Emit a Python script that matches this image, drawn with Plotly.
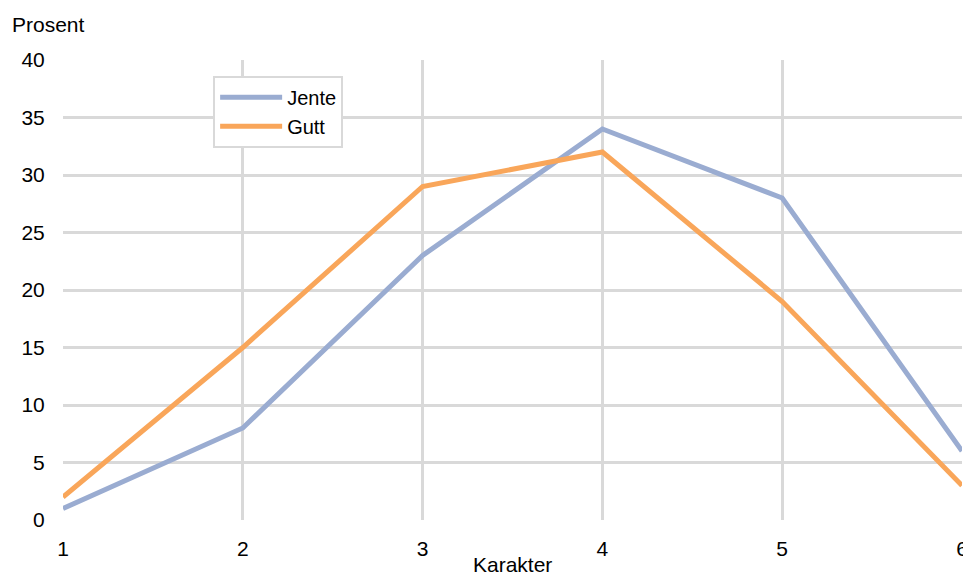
import plotly.graph_objects as go

karakter = [1, 2, 3, 4, 5, 6]
jente = [1, 8, 23, 34, 28, 6]
gutt = [2, 15, 29, 32, 19, 3]
y_ticks = [0, 5, 10, 15, 20, 25, 30, 35, 40]

FAMILY = "Liberation Sans, Arial, sans-serif"
font = dict(family=FAMILY, size=21, color="#000000")
grid = "#d9d9d9"

fig = go.Figure()
fig.add_trace(go.Scatter(x=karakter, y=jente, mode="lines", name="Jente",
                         line=dict(color="#9aacd1", width=5)))
fig.add_trace(go.Scatter(x=karakter, y=gutt, mode="lines", name="Gutt",
                         line=dict(color="#f9a65a", width=5)))

fig.update_layout(
    width=963, height=576,
    margin=dict(l=63, r=1, t=60, b=56),
    paper_bgcolor="white", plot_bgcolor="white",
    font=font,
    showlegend=True,
    legend=dict(x=0.167, y=0.966, xanchor="left", yanchor="top",
                bgcolor="white", bordercolor=grid, borderwidth=2,
                font=dict(family=FAMILY, size=20, color="#000000"),
                itemwidth=62, tracegroupgap=0),
    xaxis=dict(range=[1, 6], tickvals=karakter, showgrid=True, gridcolor=grid,
               gridwidth=3, zeroline=False, showline=False, ticks="outside",
               ticklen=10, tickcolor="white", tickfont=font,
               ticklabeloverflow="allow", automargin=False),
    yaxis=dict(range=[0, 40], tickvals=y_ticks, showgrid=True, gridcolor=grid,
               gridwidth=3, zeroline=False, showline=False, ticks="outside",
               ticklen=13, tickcolor="white", tickfont=font, automargin=False),
    annotations=[
        dict(text="Prosent", xref="paper", yref="paper", x=-0.059, y=1.078,
             xanchor="left", yanchor="middle", showarrow=False, font=font),
        dict(text="Karakter", xref="paper", yref="paper", x=0.5, y=-0.097,
             xanchor="center", yanchor="middle", showarrow=False, font=font),
    ],
)

# drop the default body margin so the figure sits at the window's corner
fig.write_html("out.html", config={"displayModeBar": False},
               post_script="document.body.style.margin='0';")
